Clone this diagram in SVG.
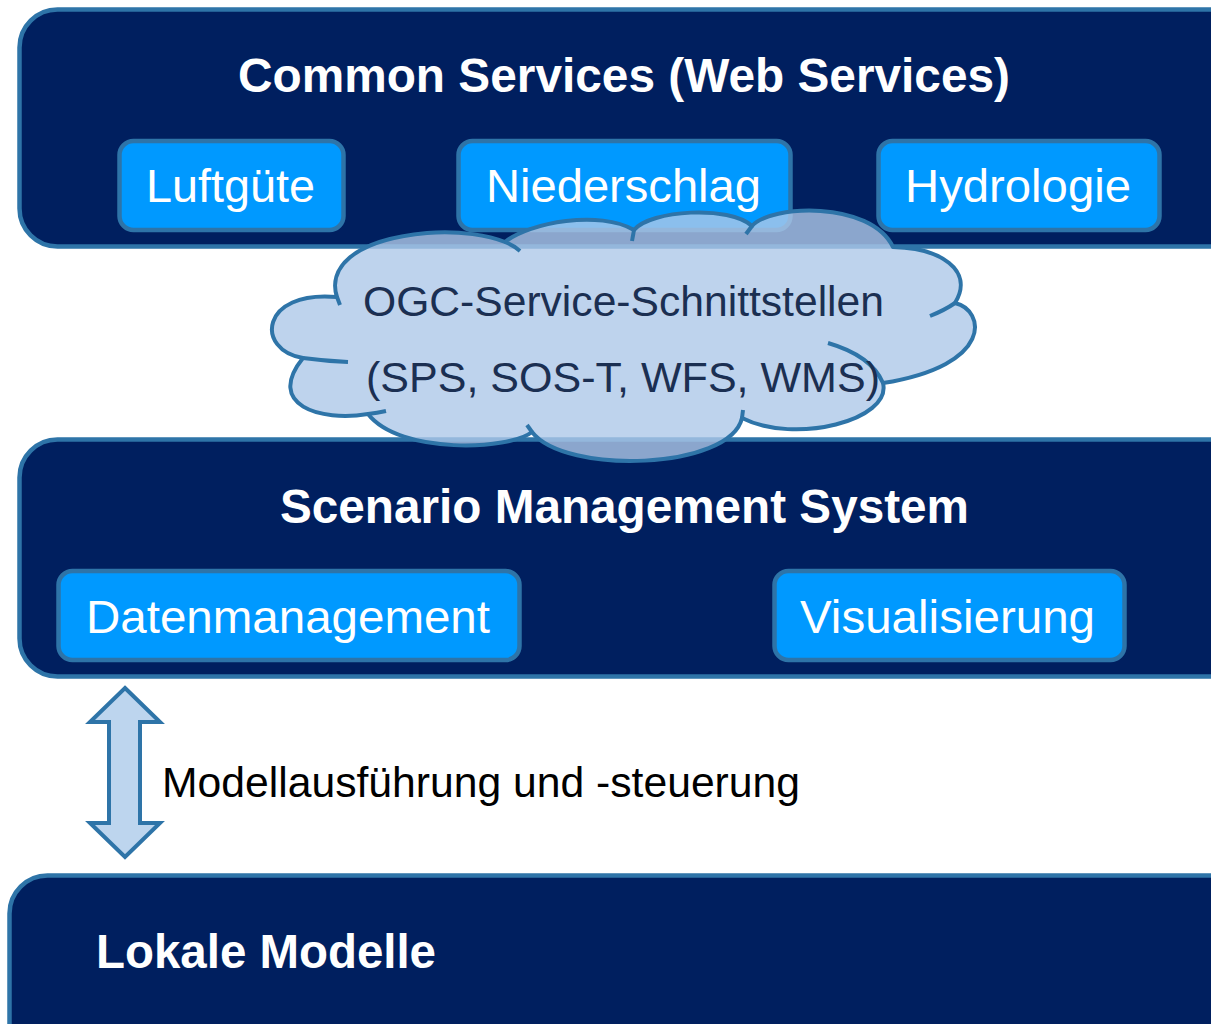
<svg xmlns="http://www.w3.org/2000/svg" width="1211" height="1024" viewBox="0 0 1211 1024">
  <style>
    .layer { fill: #001f5f; stroke: #2e74a8; stroke-width: 4.5; }
    .sub { fill: #0099ff; stroke: #2e74a8; stroke-width: 4.5; }
    .title { font-family: "Liberation Sans", Arial, sans-serif; font-weight: bold; font-size: 48px; fill: #ffffff; }
    .subtxt { font-family: "Liberation Sans", Arial, sans-serif; font-size: 47px; fill: #ffffff; text-anchor: middle; }
    .cloudtxt { font-family: "Liberation Sans", Arial, sans-serif; font-size: 43px; fill: #1b2f52; text-anchor: middle; }
    .label { font-family: "Liberation Sans", Arial, sans-serif; font-size: 42.5px; fill: #000000; }
    .cloudline { fill: none; stroke: #2e74a8; stroke-width: 4; stroke-linecap: butt; }
  </style>

  <rect width="1211" height="1024" fill="#ffffff"/>

  <g id="common-services">
    <rect class="layer" x="19.5" y="9.5" width="1230" height="237" rx="38"/>
    <text class="title" x="624" y="92" text-anchor="middle" textLength="772" lengthAdjust="spacingAndGlyphs">Common Services (Web Services)</text>
  </g>
  <g id="luftguete">
    <rect class="sub" x="119.5" y="141" width="224" height="89" rx="14"/>
    <text class="subtxt" x="230.5" y="202" textLength="169" lengthAdjust="spacingAndGlyphs">Luftgüte</text>
  </g>
  <g id="niederschlag">
    <rect class="sub" x="458.5" y="141" width="332" height="89" rx="14"/>
    <text class="subtxt" x="623.5" y="202" textLength="275" lengthAdjust="spacingAndGlyphs">Niederschlag</text>
  </g>
  <g id="hydrologie">
    <rect class="sub" x="878.5" y="141" width="281" height="89" rx="14"/>
    <text class="subtxt" x="1018" y="202" textLength="226" lengthAdjust="spacingAndGlyphs">Hydrologie</text>
  </g>

  <g id="scenario-management">
    <rect class="layer" x="19.5" y="439.5" width="1230" height="237" rx="38"/>
    <text class="title" x="624.5" y="523" text-anchor="middle" textLength="689" lengthAdjust="spacingAndGlyphs">Scenario Management System</text>
  </g>
  <g id="datenmanagement">
    <rect class="sub" x="58.5" y="571" width="461" height="89" rx="14"/>
    <text class="subtxt" x="288" y="633" textLength="404" lengthAdjust="spacingAndGlyphs">Datenmanagement</text>
  </g>
  <g id="visualisierung">
    <rect class="sub" x="774.5" y="571" width="350" height="89" rx="14"/>
    <text class="subtxt" x="947.5" y="633" textLength="295" lengthAdjust="spacingAndGlyphs">Visualisierung</text>
  </g>

  <g id="lokale-modelle">
    <rect class="layer" x="9.5" y="875.5" width="1240" height="200" rx="38"/>
    <text class="title" x="96" y="968" textLength="340" lengthAdjust="spacingAndGlyphs">Lokale Modelle</text>
  </g>

  <g id="ogc-cloud">
    <path fill="#aec8e8" fill-opacity="0.8" stroke="#2e74a8" stroke-width="4" stroke-linejoin="round"
      d="M337,297 C328,270 350,240 427,233 C460,230 490,236 505,242
         C530,222 600,210 634,230
         C650,210 730,205 752,226
         C770,205 870,200 893,247
         C940,248 975,270 955,303
         C985,310 995,365 883,383
         C892,420 795,445 742,418
         C730,470 565,475 532,432
         C510,450 400,455 368,414
         C320,422 265,405 303,358
         C255,350 260,290 337,297 Z"/>
    <path class="cloudline" d="M337,297 L340,305"/>
    <path class="cloudline" d="M505,242 Q513,245 520,251"/>
    <path class="cloudline" d="M634,230 L632,241"/>
    <path class="cloudline" d="M752,226 L746,234"/>
    <path class="cloudline" d="M955,303 Q945,310 930,316"/>
    <path class="cloudline" d="M828,343 C852,350 874,362 883,383"/>
    <path class="cloudline" d="M742,418 L743,410"/>
    <path class="cloudline" d="M532,432 L527,425"/>
    <path class="cloudline" d="M368,414 Q377,413 386,411"/>
    <path class="cloudline" d="M303,358 Q325,361 348,362"/>
    <text class="cloudtxt" x="623.5" y="316" textLength="521" lengthAdjust="spacingAndGlyphs">OGC-Service-Schnittstellen</text>
    <text class="cloudtxt" x="623" y="392" textLength="514" lengthAdjust="spacingAndGlyphs">(SPS, SOS-T, WFS, WMS)</text>
  </g>

  <g id="connectors">
    <polygon points="125,688 160,722 140,722 140,823 160,823 125,857 90,823 109,823 109,722 90,722"
      fill="#bdd5ee" stroke="#2e74a8" stroke-width="4" stroke-linejoin="miter"/>
    <text class="label" x="162" y="797" textLength="638" lengthAdjust="spacingAndGlyphs">Modellausführung und -steuerung</text>
  </g>
</svg>
